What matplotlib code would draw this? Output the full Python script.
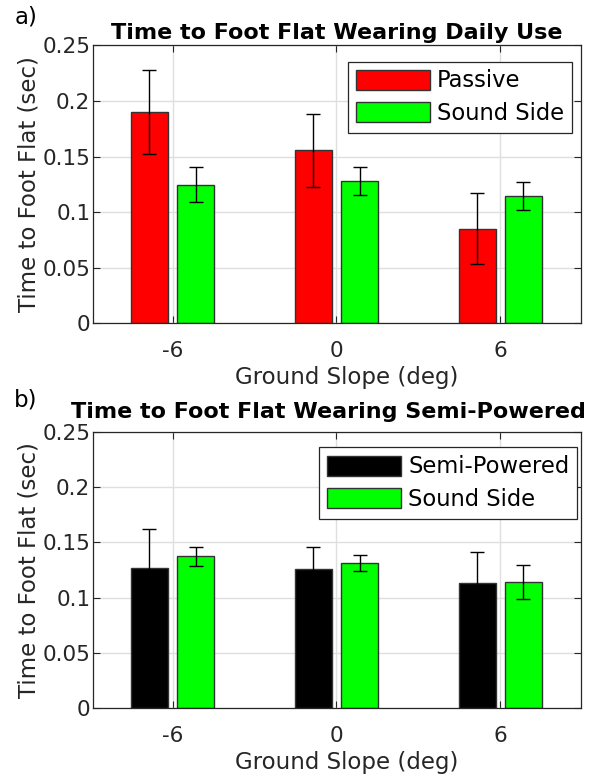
import numpy as np
import matplotlib
matplotlib.use("Agg")
import matplotlib.pyplot as plt

slopes = [-6, 0, 6]
slope_labels = ["-6", "0", "6"]

passive = [0.190, 0.1555, 0.085]
passive_err = [0.038, 0.033, 0.032]
sound_a = [0.1247, 0.1278, 0.1148]
sound_a_err = [0.016, 0.0125, 0.0125]

semi = [0.1268, 0.1259, 0.1136]
semi_err = [0.035, 0.020, 0.0276]
sound_b = [0.1373, 0.1313, 0.1139]
sound_b_err = [0.0088, 0.0069, 0.0155]

yticks = [0, 0.05, 0.1, 0.15, 0.2, 0.25]
ytick_labels = ["0", "0.05", "0.1", "0.15", "0.2", "0.25"]

AX_COL = "#262626"
plt.rcParams["font.family"] = "DejaVu Sans"

fig = plt.figure(figsize=(5.9, 7.77), dpi=100)
ax_a = fig.add_axes([0.157, 0.584, 0.827, 0.3575])
ax_b = fig.add_axes([0.157, 0.0884, 0.827, 0.356])


def panel(ax, left, left_err, left_col, left_name, right, right_err,
          title, title_pad, title_x, letter, letter_y, legend_loc):
    x = np.array(slopes, dtype=float)
    w = 1.36
    off = 0.85
    ax.bar(x - off, left, w, color=left_col, edgecolor="#333333", linewidth=1.0,
           label=left_name, zorder=2)
    ax.bar(x + off, right, w, color="#00ff00", edgecolor="#333333", linewidth=1.0,
           label="Sound Side", zorder=2)
    ax.errorbar(x - off, left, yerr=left_err, fmt="none", ecolor="black",
                elinewidth=1.0, capsize=5, capthick=1.0, zorder=3)
    ax.errorbar(x + off, right, yerr=right_err, fmt="none", ecolor="black",
                elinewidth=1.0, capsize=5, capthick=1.0, zorder=3)
    ax.set_xlim(-8.93, 8.94)
    ax.set_ylim(0, 0.25)
    ax.set_xticks(slopes)
    ax.set_xticklabels(slope_labels)
    ax.set_yticks(yticks)
    ax.set_yticklabels(ytick_labels)
    ax.grid(True, color="#dfdfdf", linewidth=1.0, zorder=0)
    ax.set_axisbelow(True)
    ax.tick_params(direction="in", top=True, right=True, length=5, width=0.8,
                   colors=AX_COL, labelsize=15.5)
    ax.tick_params(axis="x", pad=13)
    ax.tick_params(axis="y", pad=1.7)
    for s in ax.spines.values():
        s.set_color(AX_COL)
        s.set_linewidth(0.9)
    ax.set_xlabel("Ground Slope (deg)", fontsize=16.5, color=AX_COL, labelpad=5)
    ax.xaxis.set_label_coords(0.52, -0.155)
    ax.xaxis.label.set_va("top")
    ax.set_ylabel("Time to Foot Flat (sec)", fontsize=16.5, color=AX_COL, labelpad=1.5)
    ax.set_title(title, fontsize=16, fontweight="bold", pad=title_pad, x=title_x)
    ax.text(-0.137, letter_y, letter, transform=ax.transAxes, fontsize=16.5,
            ha="center", va="center")
    leg = ax.legend(loc="upper right", bbox_to_anchor=legend_loc, fontsize=16.3,
                    handlelength=3.3, handleheight=1.0, handletextpad=0.3,
                    labelspacing=0.42, borderpad=0.35, fancybox=False,
                    framealpha=1, edgecolor=AX_COL, borderaxespad=0)
    leg.get_frame().set_linewidth(0.9)


panel(ax_a, passive, passive_err, "#ff0000", "Passive", sound_a, sound_a_err,
      "Time to Foot Flat Wearing Daily Use", 5, 0.5, "a)", 1.104, (0.983, 0.942))
panel(ax_b, semi, semi_err, "#000000", "Semi-Powered", sound_b, sound_b_err,
      "Time to Foot Flat Wearing Semi-Powered", 10, 0.484, "b)", 1.113, (0.993, 0.943))

fig.savefig("out.png", dpi=100)
